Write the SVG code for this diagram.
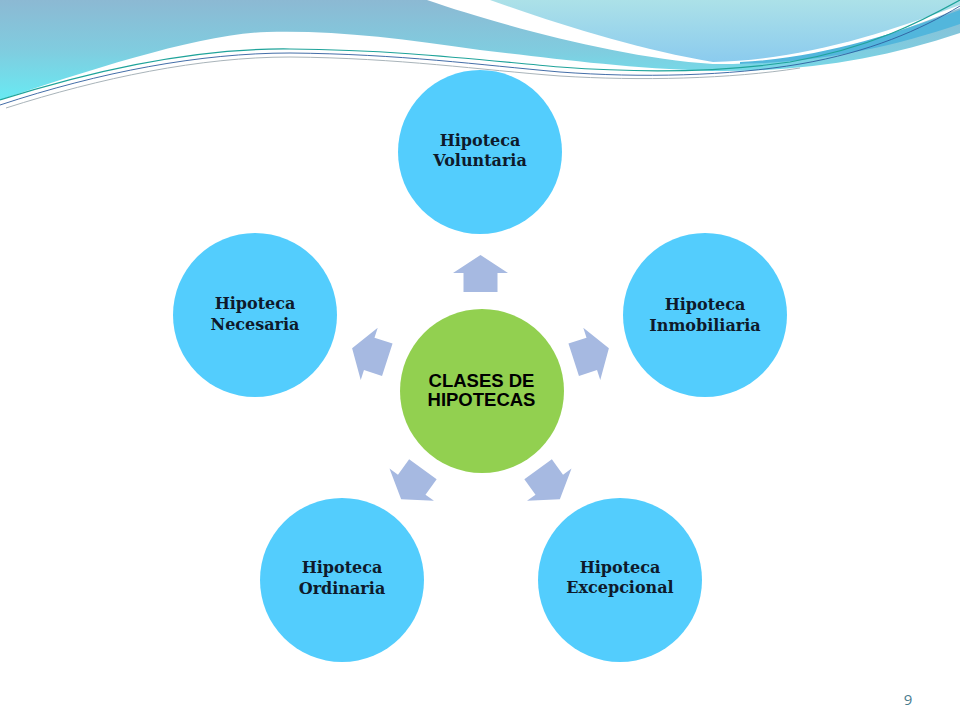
<svg xmlns="http://www.w3.org/2000/svg" width="960" height="720" viewBox="0 0 960 720">
<defs>
<linearGradient id="gA" gradientUnits="userSpaceOnUse" x1="0" y1="0" x2="0" y2="100">
<stop offset="0" stop-color="#8CB9D3"/>
<stop offset="0.5" stop-color="#80CCDF"/>
<stop offset="1" stop-color="#68EAF3"/>
</linearGradient>
<linearGradient id="gB" gradientUnits="userSpaceOnUse" x1="0" y1="0" x2="0" y2="62">
<stop offset="0" stop-color="#ACE1E8"/>
<stop offset="1" stop-color="#8BCBEE"/>
</linearGradient>
<path id="arr" d="M-17,-98 V-117 H-27.5 L0,-135 L27.5,-117 H17 V-98 Z"/>
<style>
.sat{fill:#53CDFD}
.st{font-family:"DejaVu Serif","Liberation Serif",serif;font-weight:bold;font-size:16px;fill:#0E1A2B;text-anchor:middle}
.ct{font-family:"Liberation Sans",Arial,sans-serif;font-weight:bold;font-size:18.5px;fill:#000;text-anchor:middle}
.ar{fill:#A6B9E1}
</style>
</defs>
<rect width="960" height="720" fill="#FFFFFF"/>
<g id="background-wave">
<path fill="url(#gA)" d="M0,0 H427 C500,25 620,58 713,64 C800,66 880,40 960,8 V33 C880,60 800,72 713,71 C620,68 550,58 480,50 C400,38 330,30 267,32 C200,34 90,70 0,100 Z"/>
<path fill="url(#gB)" d="M490,0 H960 V5 C880,35 800,60 713,62 C640,50 560,25 490,0 Z"/>
<path fill="#52B6DC" d="M740,62 C820,58 890,35 960,10 V24 C890,48 820,62 740,64 Z"/>
<path fill="none" stroke="#1FA39A" stroke-width="1.2" d="M0,100 C100,68 200,48 290,49 C400,50 480,60 560,67 C640,73 720,72 790,62 C870,48 920,22 960,0"/>
<path fill="none" stroke="#2F5E9E" stroke-width="0.9" d="M0,105 C100,72 200,53 290,53 C400,54 480,65 560,72 C640,78 730,76 800,64 C870,52 920,30 960,6"/>
<path fill="none" stroke="#A9B4BA" stroke-width="1" d="M6,108 C100,78 200,57 290,57 C400,58 480,70 560,76 C640,81 730,79 800,68"/>
</g>
<g id="connectors">
<use href="#arr" class="ar" transform="translate(480.5,390)"/>
<use href="#arr" class="ar" transform="translate(480.5,390) rotate(72)"/>
<use href="#arr" class="ar" transform="translate(480.5,390) rotate(144)"/>
<use href="#arr" class="ar" transform="translate(480.5,390) rotate(216)"/>
<use href="#arr" class="ar" transform="translate(480.5,390) rotate(288)"/>
</g>
<g id="center">
<circle cx="482" cy="391" r="82" fill="#92D050"/>
<text class="ct" x="481.5" y="387">CLASES DE</text>
<text class="ct" x="481.5" y="406">HIPOTECAS</text>
</g>
<g id="voluntaria">
<circle class="sat" cx="480" cy="152" r="82"/>
<text class="st" x="480" y="146">Hipoteca</text>
<text class="st" x="480" y="166">Voluntaria</text>
</g>
<g id="inmobiliaria">
<circle class="sat" cx="705" cy="315" r="82"/>
<text class="st" x="705" y="310">Hipoteca</text>
<text class="st" x="705" y="330.5">Inmobiliaria</text>
</g>
<g id="excepcional">
<circle class="sat" cx="620" cy="580" r="82"/>
<text class="st" x="620" y="573">Hipoteca</text>
<text class="st" x="620" y="593">Excepcional</text>
</g>
<g id="ordinaria">
<circle class="sat" cx="342" cy="580" r="82"/>
<text class="st" x="342" y="573">Hipoteca</text>
<text class="st" x="342" y="593.5">Ordinaria</text>
</g>
<g id="necesaria">
<circle class="sat" cx="255" cy="315" r="82"/>
<text class="st" x="255" y="309">Hipoteca</text>
<text class="st" x="255" y="330">Necesaria</text>
</g>
<text x="908" y="705" font-family="'Open Sans','Liberation Sans',sans-serif" font-size="15" fill="#4A7C8E" text-anchor="middle">9</text>
</svg>
